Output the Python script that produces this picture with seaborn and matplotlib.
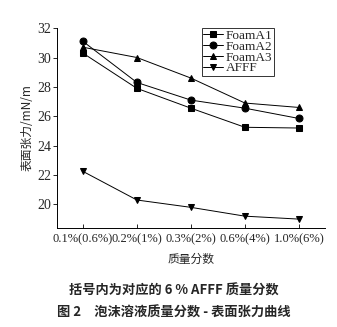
import matplotlib
matplotlib.use("Agg")
import matplotlib.pyplot as plt
import seaborn as sns
import pandas as pd

categories = ["0.1%(0.6%)", "0.2%(1%)", "0.3%(2%)", "0.6%(4%)", "1.0%(6%)"]
foamA1 = [30.3, 27.9, 26.55, 25.25, 25.2]
foamA2 = [31.1, 28.3, 27.1, 26.55, 25.85]
foamA3 = [30.7, 30.0, 28.6, 26.9, 26.6]
afff = [22.25, 20.3, 19.8, 19.2, 19.0]
series_names = ["FoamA1", "FoamA2", "FoamA3", "AFFF"]
series_values = [foamA1, foamA2, foamA3, afff]
markers = ["s", "o", "^", "v"]

sns.set_style("ticks")
plt.rcParams['font.family'] = ['Liberation Serif', 'Noto Sans CJK SC']

fig = plt.figure(figsize=(3.37, 3.27), dpi=100)
ax = fig.add_axes([0.169, 0.303, 0.795, 0.611])

rows = []
for name, vals in zip(series_names, series_values):
    for i, v in enumerate(vals):
        rows.append({"x": i, "y": v, "series": name})
df = pd.DataFrame(rows)

for name, m in zip(series_names, markers):
    sub = df[df["series"] == name]
    sns.lineplot(data=sub, x="x", y="y", ax=ax, color="black", marker=m,
                 markersize=5, linewidth=0.7, markeredgecolor="black",
                 label=name)

ax.set_xlim(-0.48, 4.48)
ax.set_ylim(18.4, 32)
ax.set_xticks(range(len(categories)))
ax.set_xticklabels(categories, fontsize=9)
ax.set_yticks([20, 22, 24, 26, 28, 30, 32])
ax.tick_params(axis='y', direction='out', length=3, width=0.7, labelsize=10, pad=1)
ax.tick_params(axis='x', direction='in', length=3, width=0.7, pad=4)
sns.despine(ax=ax)
for s in ["left", "bottom"]:
    ax.spines[s].set_linewidth(0.7)
    ax.spines[s].set_color("black")

ax.set_xlabel("质量分数", fontsize=8.5, family=['Noto Sans CJK SC'], labelpad=5)
ax.set_ylabel("表面张力/mN/m", fontsize=8.5, family=['Noto Sans CJK SC'], labelpad=3)

leg = ax.legend(loc="upper right", bbox_to_anchor=(0.81, 1.0), frameon=True,
                fancybox=False, edgecolor="black", fontsize=9.5,
                handlelength=1.5, handletextpad=0.2, borderpad=0.1,
                labelspacing=-0.1, borderaxespad=0.0)
leg.get_frame().set_linewidth(0.7)

fig.text(0.515, 0.112, "括号内为对应的 6 % AFFF 质量分数", ha="center", va="center",
         fontsize=9.5, family=['Noto Sans CJK SC'], fontweight='bold')
fig.text(0.17, 0.044, "图 2　泡沫溶液质量分数 - 表面张力曲线", ha="left", va="center",
         fontsize=9.5, family=['Noto Sans CJK SC'], fontweight='bold')

fig.savefig("out.png", dpi=100)
